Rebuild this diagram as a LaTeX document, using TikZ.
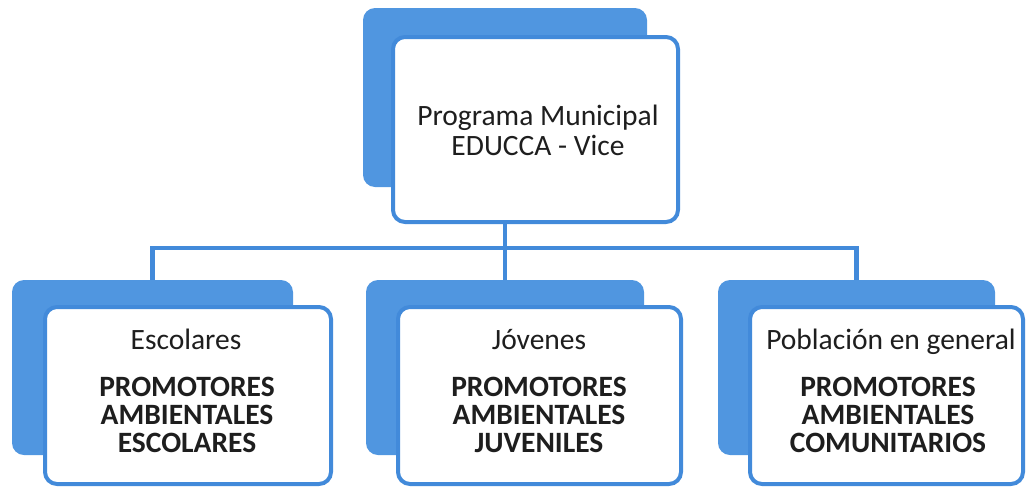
\documentclass[tikz,border=0pt]{standalone}
\usepackage{fontspec}
\setmainfont{Carlito}
\definecolor{boxblue}{RGB}{80,150,224}
\definecolor{lineblue}{RGB}{66,138,218}
\definecolor{txt}{RGB}{30,30,30}
\tikzset{
  backbox/.style={fill=boxblue, draw=none, rounded corners=12pt, anchor=north west, inner sep=0pt, outer sep=0pt},
  frontbox/.style={fill=white, draw=lineblue, line width=4pt, rounded corners=12pt, anchor=north west, inner sep=0pt, outer sep=0pt},
  conn/.style={draw=lineblue, line width=4.5pt},
  lbl/.style={anchor=base, text=txt, inner sep=0pt, font=\fontsize{29.5}{29.5}\selectfont},
  blbl/.style={anchor=base, text=txt, inner sep=0pt, font=\fontsize{29.5}{29.5}\selectfont\bfseries},
}
\begin{document}
\begin{tikzpicture}[x=1pt,y=-1pt]
\useasboundingbox (0,0) rectangle (1026,488);
% back boxes
\node[backbox, minimum width=284pt, minimum height=179pt] (topback) at (363,8) {};
\node[backbox, minimum width=281pt, minimum height=175pt] (lback) at (12,280) {};
\node[backbox, minimum width=278pt, minimum height=175pt] (mback) at (366,280) {};
\node[backbox, minimum width=277pt, minimum height=175pt] (rback) at (718,280) {};
% connectors
\coordinate (hm) at (topback.south |- 0,248);
\coordinate (hl) at (lback.north |- hm);
\coordinate (hr) at (rback.north |- hm);
\draw[conn] (topback.south) -- (hm);
\draw[conn] ([xshift=-2.25pt]hl) -- ([xshift=2.25pt]hr);
\draw[conn] (hl) -- (lback.north);
\draw[conn] (hm) -- (hm |- mback.north);
\draw[conn] (hr) -- (rback.north);
% front boxes
\node[frontbox, minimum width=285pt, minimum height=185pt] (top) at (393,37) {};
\node[frontbox, minimum width=286pt, minimum height=177pt] (lfront) at (45,307) {};
\node[frontbox, minimum width=283pt, minimum height=177pt] (mfront) at (398,307) {};
\node[frontbox, minimum width=273pt, minimum height=177pt] (rfront) at (750,307) {};
% texts
\node[lbl] (t1) at (538,125) {Programa Municipal};
\node[lbl] (t2) at (538,155) {EDUCCA - Vice};
\node[lbl] (a0) at (186,349) {Escolares};
\node[blbl] (a1) at (187,396) {PROMOTORES};
\node[blbl] (a2) at (187,424) {AMBIENTALES};
\node[blbl] (a3) at (187,452) {ESCOLARES};
\node[lbl] (b0) at (539,349) {Jóvenes};
\node[blbl] (b1) at (539,396) {PROMOTORES};
\node[blbl] (b2) at (539,424) {AMBIENTALES};
\node[blbl] (b3) at (539,452) {JUVENILES};
\node[lbl] (c0) at (891,349) {Población en general};
\node[blbl] (c1) at (888,396) {PROMOTORES};
\node[blbl] (c2) at (888,424) {AMBIENTALES};
\node[blbl] (c3) at (888,452) {COMUNITARIOS};
\end{tikzpicture}
\end{document}
